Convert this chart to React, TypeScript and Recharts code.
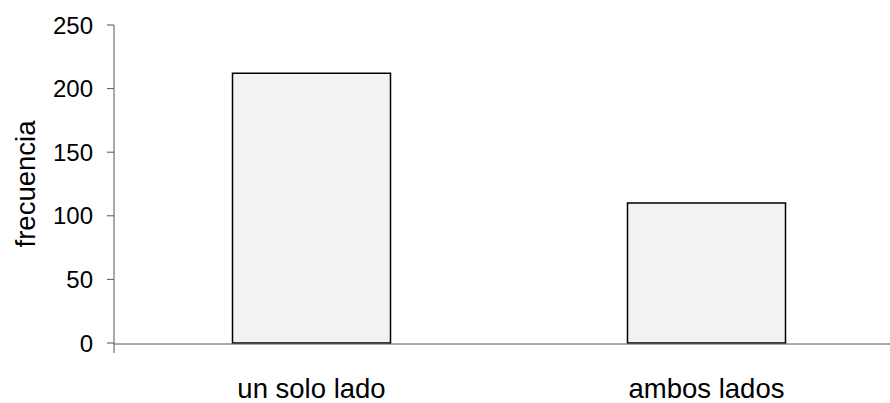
import React from "react";
import { BarChart, Bar, XAxis, YAxis } from "recharts";

const categories = ["un solo lado", "ambos lados"];
const frecuencia = [212, 110];
const yTicks = [0, 50, 100, 150, 200, 250];
const edgeTicks = [0, 1, 2];

const data = categories.map((name, i) => ({ name, value: frecuencia[i] }));

const font = "Liberation Sans, Arial, sans-serif";

export default function App() {
  return (
    <div
      style={{
        position: "absolute",
        left: 0,
        top: 0,
        width: 890,
        height: 403,
        overflow: "hidden",
        background: "#fff",
      }}
    >
      <BarChart
        width={910}
        height={403}
        data={data}
        margin={{ top: 25, right: 6, left: 0, bottom: 0 }}
        barCategoryGap="30%"
      >
        <XAxis
          xAxisId="a-edges"
          type="number"
          domain={[0, 2]}
          ticks={edgeTicks}
          height={1}
          axisLine={false}
          tickSize={10}
          tickFormatter={() => ""}
          tickLine={{ stroke: "#555", strokeWidth: 1 }}
        />
        <XAxis
          xAxisId="b-cat"
          dataKey="name"
          height={59}
          tickLine={false}
          tickSize={0}
          tickMargin={34}
          axisLine={{ stroke: "#555", strokeWidth: 1 }}
          tick={{ fill: "#000", fontSize: 27.5, fontFamily: font }}
        />
        <YAxis
          width={114}
          domain={[0, 250]}
          ticks={yTicks}
          tickSize={7}
          tickMargin={14}
          axisLine={{ stroke: "#555", strokeWidth: 1 }}
          tickLine={{ stroke: "#555", strokeWidth: 1 }}
          tick={{ fill: "#000", fontSize: 24, fontFamily: font }}
          label={{
            value: "frecuencia",
            angle: -90,
            position: "insideLeft",
            offset: 25,
            style: { fill: "#000", fontSize: 27.5, fontFamily: font, textAnchor: "middle" },
          }}
        />
        <Bar
          xAxisId="b-cat"
          dataKey="value"
          fill="#f2f2f2"
          stroke="#000"
          strokeWidth={1.5}
          isAnimationActive={false}
        />
      </BarChart>
    </div>
  );
}
